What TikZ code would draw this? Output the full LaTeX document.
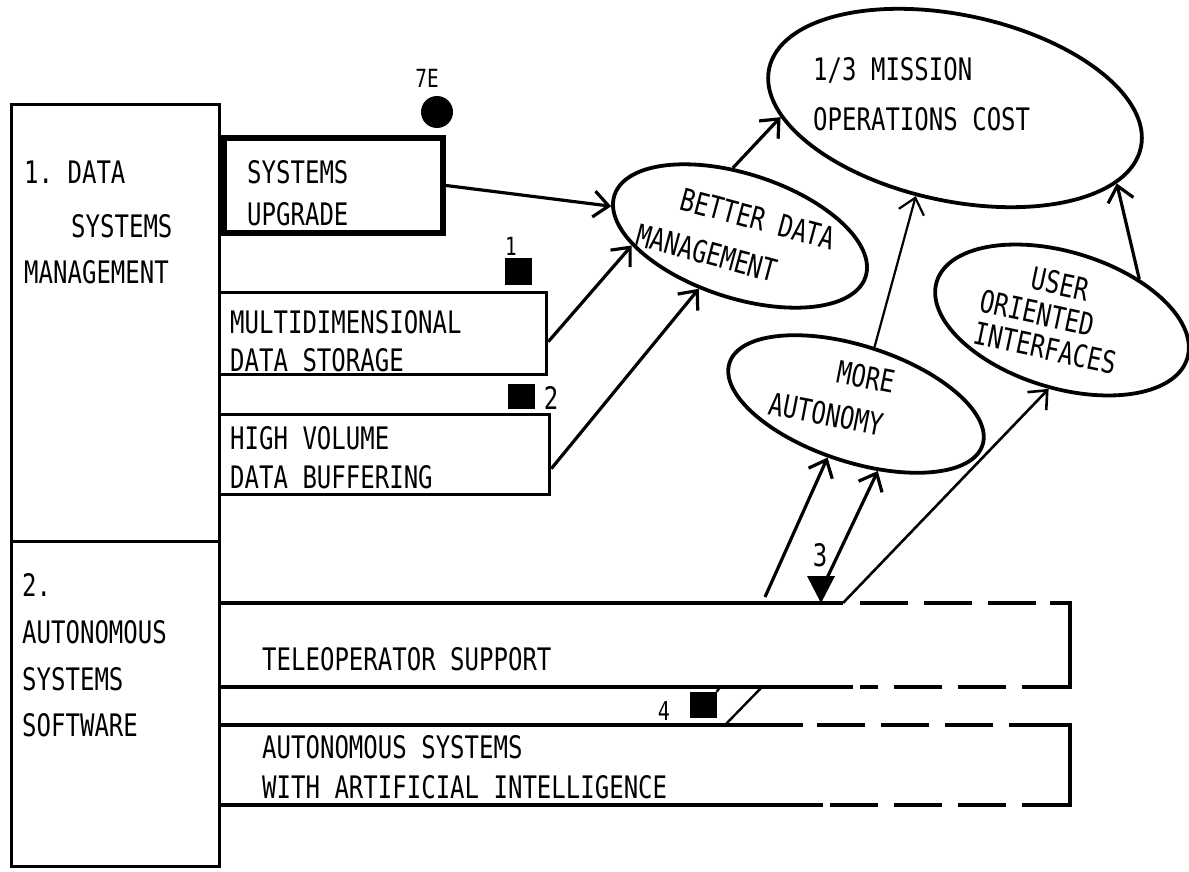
\documentclass[tikz,border=0pt]{standalone}
\usepackage{fontspec}
\setmonofont{DejaVu Sans Mono}[FakeStretch=0.775]
\usetikzlibrary{shapes.geometric,arrows.meta}

\tikzset{
  lbl/.style={font=\ttfamily\fontsize{31}{36}\selectfont, inner sep=0pt,
              text height=22.5pt, text depth=0pt, anchor=west},
  lblc/.style={lbl, anchor=center},
  small/.style={font=\ttfamily\fontsize{25}{28}\selectfont, inner sep=0pt,
              text height=18pt, text depth=0pt, anchor=center},
  frame/.style={draw, line width=3.3pt, inner sep=0pt, anchor=north west},
  oval/.style={draw, ellipse, line width=3.8pt, inner sep=0pt},
  flow/.style={line width=3.2pt, -{Straight Barb[length=15pt,width=26pt]}},
  edge/.style={line width=3.3pt},
  dashedge/.style={line width=3.3pt, dash pattern=on 48pt off 16pt},
  blot/.style={fill=black, inner sep=0pt}
}

\begin{document}
\begin{tikzpicture}[x=1pt,y=-1pt]
\useasboundingbox (0,0) rectangle (1189,872);

% ---- program areas (left column) ----
\node[frame, minimum width=208pt, minimum height=437pt] (dsm) at (10,103) {};
\node[frame, minimum width=208pt, minimum height=325pt] (ass) at (10,540) {};

\node[lbl] (dsm1) at (24,172) {1. DATA};
\node[lbl] (dsm2) at (71,226) {SYSTEMS};
\node[lbl] (dsm3) at (24,272) {MANAGEMENT};

\node[lbl] (ass1) at (22,585) {2.};
\node[lbl] (ass2) at (22,632) {AUTONOMOUS};
\node[lbl] (ass3) at (22,679) {SYSTEMS};
\node[lbl] (ass4) at (22,725) {SOFTWARE};

% ---- data systems tasks ----
\node[frame, line width=6pt, minimum width=219pt, minimum height=95pt] (su) at (221,135) {};
\node[lbl] (su1) at (247,172) {SYSTEMS};
\node[lbl] (su2) at (247,214) {UPGRADE};

\node[frame, minimum width=327pt, minimum height=82pt] (md) at (218,291) {};
\node[lbl] (md1) at (230,322) {MULTIDIMENSIONAL};
\node[lbl] (md2) at (230,360) {DATA STORAGE};

\node[frame, minimum width=330pt, minimum height=80pt] (hv) at (218,413) {};
\node[lbl] (hv1) at (230,438) {HIGH VOLUME};
\node[lbl] (hv2) at (230,477) {DATA BUFFERING};

% ---- autonomous systems tasks (solid, then dashed continuation) ----
\draw[edge] (218,603) -- (843,603);
\draw[dashedge] (860,603) -- (1070,603);
\draw[edge] (1050,603) -- (1070,603) -- (1070,687) -- (1050,687);
\draw[dashedge] (1070,687) -- (860,687);
\draw[edge] (853,687) -- (218,687);
\node[lbl] (tele) at (262,659) {TELEOPERATOR SUPPORT};

\draw[edge] (218,725) -- (803,725);
\draw[dashedge] (817,725) -- (1070,725);
\draw[edge] (1050,725) -- (1070,725) -- (1070,805) -- (1050,805);
\draw[dashedge] (1070,805) -- (830,805);
\draw[edge] (823,805) -- (218,805);
\node[lbl] (ai1) at (262,747) {AUTONOMOUS SYSTEMS};
\node[lbl] (ai2) at (262,787) {WITH ARTIFICIAL INTELLIGENCE};

% ---- milestone markers ----
\node[blot, circle, minimum size=32pt] (m7e) at (437,112) {};
\node[small] (l7e) at (427,79) {7E};
\node[blot, minimum width=27pt, minimum height=27pt] (m1) at (518,271) {};
\node[small] (l1) at (511,246) {1};
\node[blot, minimum width=27pt, minimum height=25pt] (m2) at (521,396) {};
\node[lblc] (l2) at (551,398) {2};
\fill (807,576) -- (835,576) -- (821,603) -- cycle;
\node[lblc] (l3) at (820,555) {3};
\node[blot, minimum width=27pt, minimum height=26pt] (m4) at (703,705) {};
\node[small, font=\ttfamily\fontsize{26}{30}\selectfont] (l4) at (664,711) {4};

% ---- goals ----
\node[oval, minimum width=380pt, minimum height=186pt, rotate=-12] (cost) at (955,108) {};
\node[lbl] (cost1) at (813,69) {1/3 MISSION};
\node[lbl] (cost2) at (813,119) {OPERATIONS COST};

\node[oval, minimum width=264pt, minimum height=124pt, rotate=-18] (bdm) at (740,236) {};
\node[lblc, rotate=-15] (bdm1) at (758,219) {BETTER DATA};
\node[lblc, rotate=-15] (bdm2) at (707,253) {MANAGEMENT};

\node[oval, minimum width=266pt, minimum height=116pt, rotate=-18] (ma) at (856,404) {};
\node[lblc, rotate=-11] (ma1) at (866,377) {MORE};
\node[lblc, rotate=-11] (ma2) at (826,414) {AUTONOMY};

\node[oval, minimum width=262pt, minimum height=136pt, rotate=-17] (user) at (1062,320) {};
\node[lblc, rotate=-12] (user1) at (1060,284) {USER};
\node[lblc, rotate=-12] (user2) at (1037,313) {ORIENTED};
\node[lblc, rotate=-12] (user3) at (1045,348) {INTERFACES};

% ---- connector end points on the task bars ----
\coordinate (tA) at (765,597);
\coordinate (tB) at (843,603);
\coordinate (m3top) at (827,578);
\coordinate (aiTop) at (725,725);
\coordinate (teleBot) at (762,687);
\coordinate (m4tail) at (720,687);

% ---- connectors ----
\draw[flow] (su.east) -- (bdm.185);
\draw[flow] ([yshift=-8pt]md.east) -- (bdm.203);
\draw[flow] ([yshift=-14pt]hv.east) -- (bdm.250);
\draw[flow] (bdm.114) -- (cost.195);
\draw[flow, line width=2.2pt] (ma.90) -- (cost.258);
\draw[flow] (user.45) -- (cost.347);
\draw[flow] (tA) -- (ma.260);
\draw[flow] (m3top) -- (ma.306);
\draw[flow, line width=2.6pt] (tB) -- (user.276);
\draw[line width=2.4pt] (aiTop) -- (teleBot);
\draw[line width=2.4pt] (m4.north east) -- (m4tail);
\end{tikzpicture}
\end{document}
